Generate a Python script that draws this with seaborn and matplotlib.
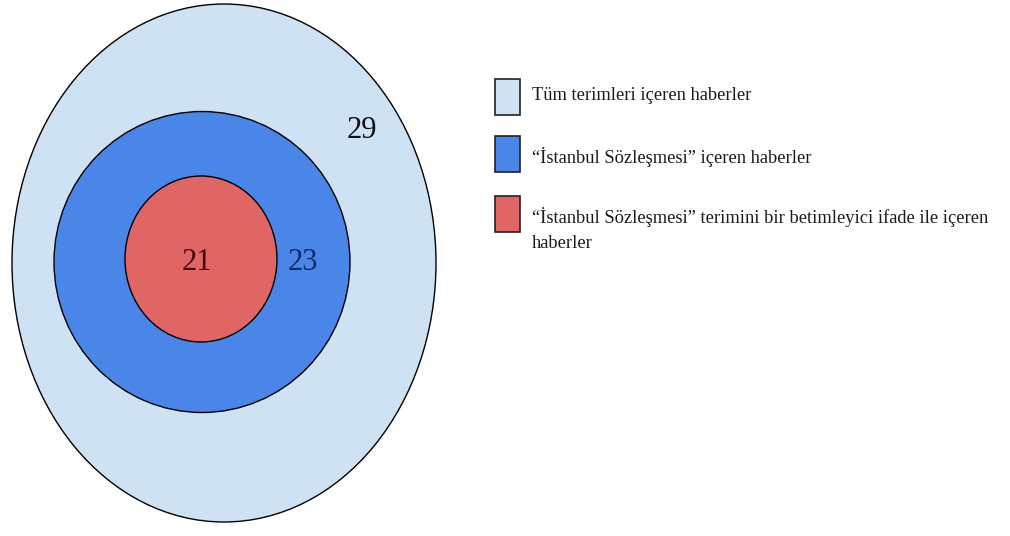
import matplotlib
matplotlib.use("Agg")
import matplotlib.pyplot as plt
from matplotlib.patches import Ellipse, Rectangle
import seaborn as sns

# data
labels = ["Tüm terimleri içeren haberler",
          "“İstanbul Sözleşmesi” içeren haberler",
          "“İstanbul Sözleşmesi” terimini bir betimleyici ifade ile içeren\nhaberler"]
counts = [29, 23, 21]
colors = ["#cfe2f3", "#4a86e8", "#e06666"]
text_colors = ["#111111", "#0b2a66", "#4a0808"]

sns.set_theme(style="white")
plt.rcParams['font.family'] = ['Liberation Serif', 'DejaVu Serif']

fig = plt.figure(figsize=(10.1, 5.36), dpi=100)
ax = fig.add_axes([0, 0, 1, 1])
ax.set_xlim(0, 1010)
ax.set_ylim(536, 0)
ax.axis('off')

# ellipses (pixel layout): center x, center y, width, height
shapes = [(224, 263, 424, 518), (202, 262, 296, 301), (201, 259, 152, 166)]
num_pos = [(362, 131), (303, 262), (197, 262)]

for (cx, cy, w, h), c in zip(shapes, colors):
    ax.add_patch(Ellipse((cx, cy), w, h, facecolor=c, edgecolor="black", lw=1.0))

for (x, y), n, tc in zip(num_pos, counts, text_colors):
    ax.text(x, y, str(n), ha="center", va="center", fontsize=22, color=tc)

# legend drawn by hand
box_y = [79, 136, 196]
text_y = [97, 157, 217]
for by, ty, lab, c in zip(box_y, text_y, labels, colors):
    ax.add_patch(Rectangle((495, by), 25, 36, facecolor=c, edgecolor="#222222", lw=1.2))
    ax.text(532, ty - 10, lab, ha="left", va="top", fontsize=13.3,
            color="#1a1a1a", linespacing=1.65)

fig.savefig("out.png", dpi=100)
